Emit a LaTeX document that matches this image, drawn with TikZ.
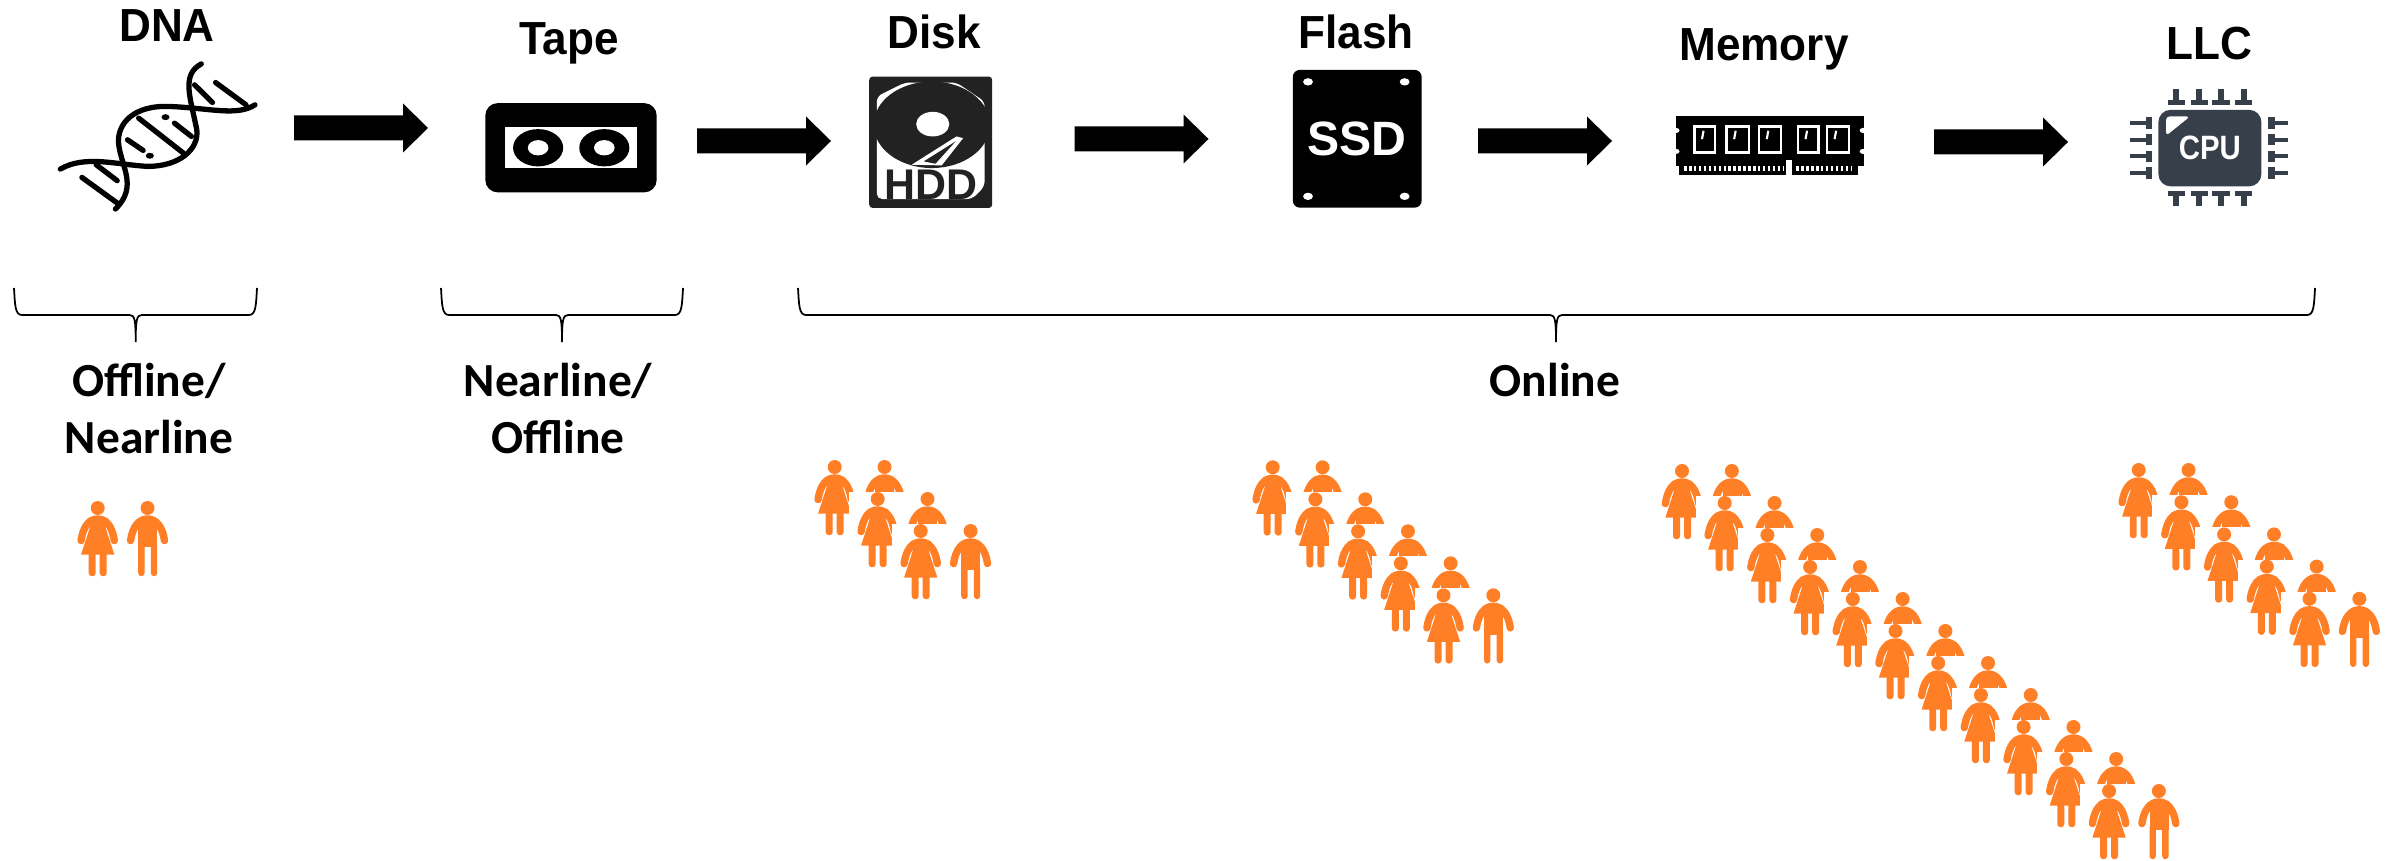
\documentclass[tikz,border=0pt]{standalone}
\usepackage{fontspec}
\setmainfont{Liberation Sans}
\newfontfamily\calfont{Carlito}
\definecolor{folk}{HTML}{FF7F27}
\definecolor{chip}{HTML}{37404A}
\definecolor{hdd}{HTML}{222222}
\tikzset{
 toplabel/.style={anchor=base,font=\fontsize{13.2}{15}\selectfont\bfseries,text=black,inner sep=0pt},
 lowlabel/.style={anchor=base,font=\fontsize{13.5}{16}\selectfont\calfont\bfseries,text=black,inner sep=0pt},
 brace/.style={draw=black,line width=0.5pt},
 flow/.style={fill=black,draw=none},
 limbs/.style={draw=folk,line width=2.1pt,line cap=round},
}
\newcommand{\toptext}[1]{\scalebox{0.95}[1]{#1}}
\newcommand{\folks}[2]{%
 \begin{scope}[shift={(#1,#2)},x=0.003333cm,y=-0.003333cm]
  \fill[white] (-87,-21) rectangle (225,215);
  \fill[folk] (0,0) circle[radius=21];
  \draw[limbs] (-50,98) .. controls (-44,55) and (-25,33) .. (0,33) .. controls (25,33) and (44,55) .. (50,98);
  \fill[folk] (-30,30) -- (30,30) -- (24,60) -- (50,140) -- (-50,140) -- (-24,60) -- cycle;
  \fill[folk,rounded corners=0.9pt] (-27,130) -- (-27,205) -- (-6,205) -- (-6,130) -- cycle;
  \fill[folk,rounded corners=0.9pt] (6,130) -- (6,205) -- (27,205) -- (27,130) -- cycle;
  \begin{scope}[xshift=0.498cm]
   \fill[folk] (0,0) circle[radius=21];
   \draw[limbs] (-51,98) .. controls (-45,55) and (-25,33) .. (0,33) .. controls (25,33) and (45,55) .. (51,98);
   \fill[folk] (-28,30) rectangle (29,118);
   \fill[folk,rounded corners=0.9pt] (-28,100) -- (-28,205) -- (-9,205) -- (-9,100) -- cycle;
   \fill[folk,rounded corners=0.9pt] (10,100) -- (10,205) -- (29,205) -- (29,100) -- cycle;
  \end{scope}
 \end{scope}}
\newcommand{\bigarrow}[2]{\fill[flow] (#1,#2-12.5) -- ++(109,0) -- ++(0,-12) -- ++(25,24.5) -- ++(-25,24.5) -- ++(0,-12) -- ++(-109,0) -- cycle;}
\newcommand{\curly}[3]{\draw[brace] (#1,288) .. controls (#1+1,305) and (#1+1,315) .. (#1+8,315) -- (#3-6,315) .. controls (#3-1,315) and (#3,320) .. (#3,342) .. controls (#3,320) and (#3+1,315) .. (#3+6,315) -- (#2-8,315) .. controls (#2-1,315) and (#2-1,305) .. (#2,288);}
\begin{document}
\begin{tikzpicture}[x=0.01cm,y=-0.01cm]
\useasboundingbox (0,0) rectangle (2398,861);
% labels
\node[toplabel] (ldna) at (167,41.7) {\toptext{DNA}};
\node[toplabel] (ltape) at (569,55) {\toptext{Tape}};
\node[toplabel] (ldisk) at (934,49) {\toptext{Disk}};
\node[toplabel] (lflash) at (1356,49) {\toptext{Flash}};
\node[toplabel] (lmem) at (1764,61) {\toptext{Memory}};
\node[toplabel] (lllc) at (2209,60) {\toptext{LLC}};
\node[lowlabel] (l1a) at (149,396.5) {Offline/};
\node[lowlabel] (l1b) at (149,453.5) {Nearline};
\node[lowlabel] (l2a) at (558,396.5) {Nearline/};
\node[lowlabel] (l2b) at (558,453.5) {Offline};
\node[lowlabel] (l3) at (1555,396.5) {Online};
% arrows
\bigarrow{294}{128}
\bigarrow{697}{141}
\bigarrow{1074.5}{139}
\bigarrow{1478}{141}
\bigarrow{1934}{142}
% DNA
\begin{scope}[x=0.004464cm,y=-0.003333cm,line width=1.5pt,line cap=round]
 \draw (450,192) .. controls (405,225) and (425,290) .. (440,390) .. controls (445,450) and (400,500) .. (330,500) .. controls (260,495) and (190,465) .. (135,508);
 \draw (570,315) .. controls (530,350) and (470,325) .. (380,320) .. controls (300,315) and (262,370) .. (265,430) .. controls (270,500) and (310,560) .. (258,628);
 \foreach \a/\b/\c/\d in {482/248/550/315,435/255/475/308,310/355/410/460,390/370/428/410,285/420/320/452,215/495/262/543,183/533/262/610}
  {\draw (\a,\b) -- (\c,\d);}
 \fill (370,352) circle[radius=9];
 \fill (335,468) circle[radius=9];
\end{scope}
% Tape
\begin{scope}[x=0.004464cm,y=-0.003333cm]
 \fill[rounded corners=3.5pt] (1085,310) rectangle (1468,578);
 \fill[white] (1128,382) rectangle (1425,506);
 \foreach \c in {1203,1351}{
  \fill (\c,444) circle[radius=56];
  \fill[white] (\c,444) circle[radius=23];}
\end{scope}
% HDD
\begin{scope}[shift={(820,0)},x=0.004464cm,y=-0.003333cm]
 \fill[hdd,rounded corners=1pt] (110,230) rectangle (385,625);
 \fill[white,rounded corners=1.5pt] (127,290) -- (190,248) -- (305,248) -- (368,305) -- (368,560) -- (340,598) -- (127,598) -- cycle;
 \fill[hdd] (250,375) circle[radius=130];
 \fill[hdd] (127,245) rectangle (190,250);
 \fill[white] (252,373) circle[radius=37];
 \fill[white] (205,495) -- (305,410) -- (320,415) -- (272,497) -- cycle;
 \fill[hdd] (232,485) -- (303,425) -- (258,492) -- cycle;
 \node[text=hdd,font=\fontsize{12.2}{14}\selectfont\bfseries,inner sep=0pt] (thdd) at (248,554) {HDD};
\end{scope}
% SSD
\begin{scope}[shift={(820,0)},x=0.004464cm,y=-0.003333cm]
 \fill[rounded corners=2pt] (1057,210) rectangle (1345,624);
 \foreach \a/\b in {1091/246,1307/246,1091/590,1307/590}
  {\fill[white] (\a,\b) circle[radius=11];}
 \node[text=white,font=\fontsize{13.7}{16}\selectfont\bfseries,inner sep=0pt] (tssd) at (1200,417) {SSD};
\end{scope}
% Memory
\begin{scope}[shift={(1600,0)},x=0.005089cm,y=-0.003333cm]
 \fill (148,348) rectangle (517,500);
 \fill (155,500) rectangle (505,525);
 \foreach \a/\b in {148/392,148/455,517/392,517/455}
  {\fill[white] (\a,\b) circle[radius=8];}
 \fill[white] (365,480) rectangle (376,525);
 \foreach \a/\b in {185/225,248/292,312/355,388/428,445/488}{
  \draw[white,line width=0.7pt] (\a,380) rectangle (\b,458);
  \draw[white,line width=0.6pt] (\a+18,393) -- (\a+15,418);}
 \draw[white,line width=1.4pt,dash pattern=on 0.7pt off 0.7pt] (165,507) -- (360,507);
 \draw[white,line width=1.4pt,dash pattern=on 0.7pt off 0.7pt] (385,507) -- (495,507);
\end{scope}
% CPU
\begin{scope}[shift={(1600,0)},x=0.005089cm,y=-0.003333cm]
 \fill[chip,rounded corners=3.5pt] (1095,330) rectangle (1297,560);
 \fill[white,rounded corners=1pt] (1110,408) -- (1110,350) -- (1157,350) -- cycle;
 \node[text=white,font=\fontsize{9.6}{11}\selectfont\bfseries,inner sep=0pt] (tcpu) at (1196,445) {\scalebox{0.87}[1]{CPU}};
 \foreach \c in {1130,1175,1218,1262}{
  \fill[chip] (\c-6,268) rectangle (\c+6,300);
  \fill[chip] (\c-17,300) rectangle (\c+17,315);
  \fill[chip] (\c-17,575) rectangle (\c+17,590);
  \fill[chip] (\c-6,590) rectangle (\c+6,620);}
 \foreach \c in {370,420,470,520}{
  \fill[chip] (1040,\c-6) rectangle (1070,\c+6);
  \fill[chip] (1070,\c-17) rectangle (1083,\c+17);
  \fill[chip] (1310,\c-17) rectangle (1323,\c+17);
  \fill[chip] (1323,\c-6) rectangle (1350,\c+6);}
\end{scope}
% brackets
\curly{14}{257}{135.7}
\curly{441}{683}{562}
\curly{798}{2315}{1556}
% people
\folks{97.7}{508}
\foreach \n in {0,1,2}{\folks{834.7+43*\n}{467+32*\n}}
\foreach \n in {0,...,4}{\folks{1272.7+42.7*\n}{467.3+32*\n}}
\foreach \n in {0,...,10}{\folks{1682+42.7*\n}{471+32*\n}}
\foreach \n in {0,...,4}{\folks{2138.7+42.7*\n}{470+32.2*\n}}
\end{tikzpicture}
\end{document}
